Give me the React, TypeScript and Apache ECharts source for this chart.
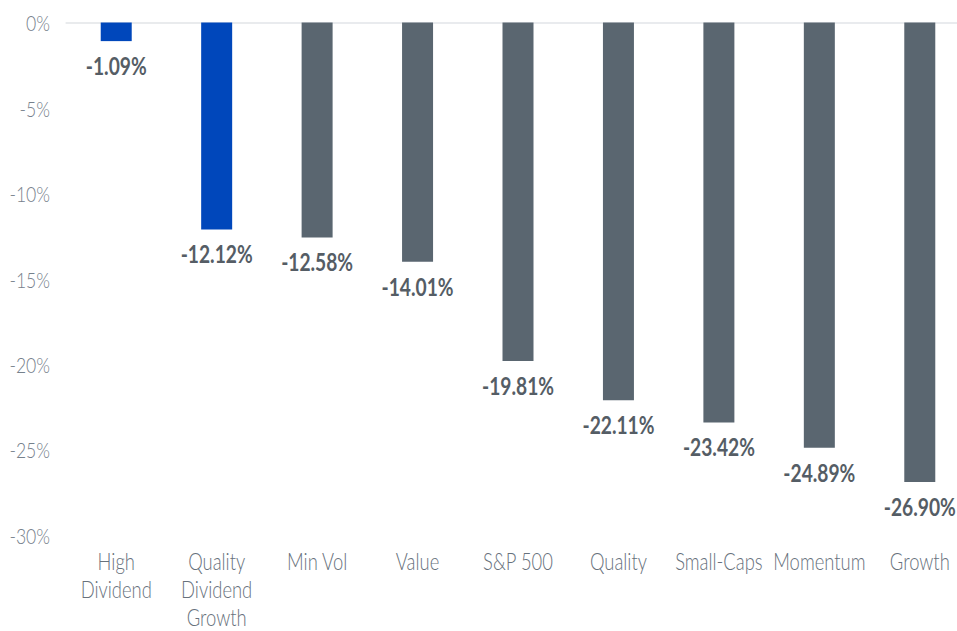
import React, { useEffect, useRef } from "react";
import * as echarts from "echarts";

const categories = [
  "High\nDividend",
  "Quality\nDividend\nGrowth",
  "Min Vol",
  "Value",
  "S&P 500",
  "Quality",
  "Small-Caps",
  "Momentum",
  "Growth",
];
const values = [-1.09, -12.12, -12.58, -14.01, -19.81, -22.11, -23.42, -24.89, -26.9];
const highlighted = [true, true, false, false, false, false, false, false, false];
const yTicks = [0, -5, -10, -15, -20, -25, -30];

const FONT = "Lato, Roboto, sans-serif";
// horizontal squeeze of the whole drawing (the reference's type is condensed)
const SX = 0.8;
const W = 957;
const H = 631;
const INNER_W = 1260;

export default function App() {
  const ref = useRef<HTMLDivElement>(null);
  useEffect(() => {
    if (!ref.current) return;
    const chart = echarts.init(ref.current, null, { renderer: "svg" });
    chart.setOption({
      animation: false,
      backgroundColor: "#ffffff",
      grid: {
        left: 66 / SX,
        top: 22.5,
        width: 904 / SX,
        height: 512.5,
        containLabel: false,
        outerBoundsMode: "none",
      },
      xAxis: [
        {
          type: "category",
          data: categories,
          position: "bottom",
          axisLine: { show: false, onZero: false },
          axisTick: { show: false },
          axisLabel: {
            interval: 0,
            margin: 12,
            fontFamily: FONT,
            fontSize: 23,
            fontWeight: 300,
            lineHeight: 28,
            color: "#67717c",
            verticalAlign: "top",
          },
        },
        {
          type: "category",
          data: categories,
          position: "top",
          axisLine: { show: true, onZero: false, lineStyle: { color: "#e2e5e8", width: 1.5 } },
          axisTick: { show: false },
          axisLabel: { show: false },
        },
      ],
      yAxis: {
        type: "value",
        min: -30,
        max: 0,
        interval: 5,
        axisLine: { show: false },
        axisTick: { show: false },
        splitLine: { show: false },
        axisLabel: {
          margin: 16 / SX,
          fontFamily: FONT,
          fontSize: 22,
          fontWeight: 300,
          color: "#76818c",
          formatter: (v: number) => (yTicks.includes(v) ? `${v}%` : ""),
        },
      },
      series: [
        {
          type: "bar",
          xAxisIndex: 0,
          barWidth: 31 / SX,
          data: values.map((v, i) => ({
            value: v,
            itemStyle: { color: highlighted[i] ? "#0047bb" : "#5a6670" },
          })),
          label: {
            show: true,
            position: "bottom",
            distance: 13,
            fontFamily: FONT,
            fontSize: 24,
            fontWeight: "bold",
            color: "#555d65",
            formatter: (p: any) => `${p.value.toFixed(2)}%`,
          },
        },
      ],
    });
    return () => chart.dispose();
  }, []);
  return (
    <div
      style={{
        position: "absolute",
        left: 0,
        top: 0,
        width: W,
        height: H,
        overflow: "hidden",
        background: "#ffffff",
      }}
    >
      <div
        ref={ref}
        style={{
          width: INNER_W,
          height: H,
          transform: `scaleX(${SX})`,
          transformOrigin: "0 0",
        }}
      />
    </div>
  );
}
